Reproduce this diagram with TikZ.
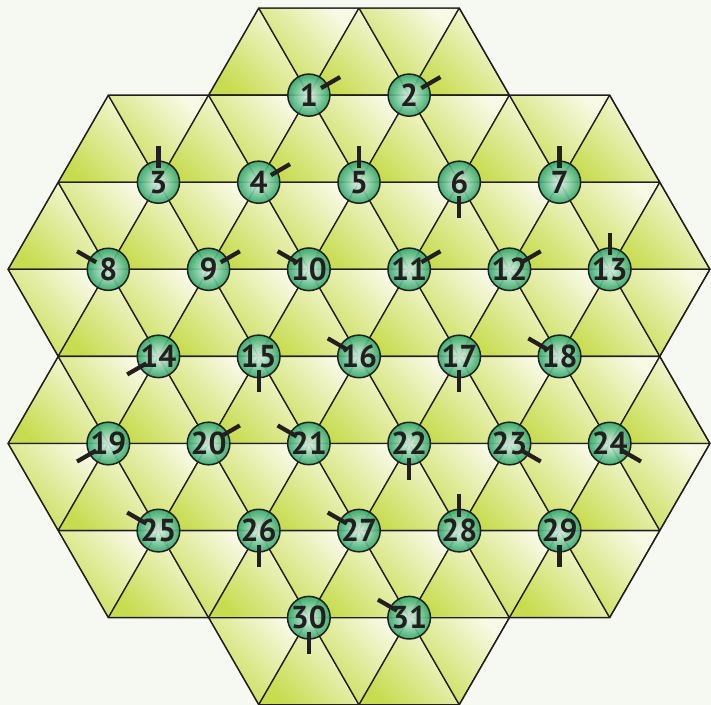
\documentclass[tikz,border=0pt]{standalone}
\usepackage{fontspec}
\setmainfont{PT Sans}
\usetikzlibrary{calc}
\definecolor{ink}{RGB}{35,31,32}
\definecolor{paper}{RGB}{246,249,242}
\definecolor{leafdark}{RGB}{200,220,80}
\definecolor{leaflight}{RGB}{248,250,230}
\definecolor{ballin}{RGB}{226,245,234}
\definecolor{ballout}{RGB}{48,168,108}
\tikzset{
  tri/.style={draw=ink, line width=0.75pt, bottom color=leafdark, top color=leaflight,
              shading angle=-45},
  rim/.style={draw=ink, line width=0.8pt, line join=miter},
  peg/.style={circle, draw=ink, line width=0.85pt, minimum size=0.84cm, inner sep=0pt,
              inner color=ballin, outer color=ballout, fill opacity=0.9, text opacity=1,
              font=\bfseries\fontsize{18}{18}\selectfont, text=ink},
  hand/.style={draw=ink, line width=2.4pt},
}
\newcommand{\hand}[2]{\draw[hand] ($(#1)+(#2:0.28cm)$) -- ($(#1)+(#2:0.72cm)$);}

\begin{document}
\begin{tikzpicture}[x=1cm, y=1.737cm]
  \fill[paper] (-0.16,0.092) rectangle (14.02,-8.0);
  \useasboundingbox (-0.16,0.092) rectangle (14.02,-8.0);

  % board
  \begin{scope}
    \clip (5,0) -- (9,0) -- (10,-1) -- (12,-1) -- (13,-2) -- (14,-3) -- (13,-4) -- (14,-5)
      -- (13,-6) -- (12,-7) -- (10,-7) -- (9,-8) -- (5,-8) -- (4,-7) -- (2,-7) -- (1,-6)
      -- (0,-5) -- (1,-4) -- (0,-3) -- (1,-2) -- (2,-1) -- (4,-1) -- cycle;
    \foreach \r in {0,...,7}{
      \foreach \c in {0,...,14}{
        \ifodd\numexpr\c+\r\relax
          \shadedraw[tri] (\c,-\r) -- (\c+1,-\r-1) -- (\c-1,-\r-1) -- cycle;
        \else
          \shadedraw[tri] (\c-1,-\r) -- (\c+1,-\r) -- (\c,-\r-1) -- cycle;
        \fi
      }
    }
  \end{scope}
  \draw[rim] (5,0) -- (9,0) -- (10,-1) -- (12,-1) -- (13,-2) -- (14,-3) -- (13,-4) -- (14,-5)
    -- (13,-6) -- (12,-7) -- (10,-7) -- (9,-8) -- (5,-8) -- (4,-7) -- (2,-7) -- (1,-6)
    -- (0,-5) -- (1,-4) -- (0,-3) -- (1,-2) -- (2,-1) -- (4,-1) -- cycle;

  % pegs
  \node[peg] (p1)  at (6,-1)  {1};
  \node[peg] (p2)  at (8,-1)  {2};
  \node[peg] (p3)  at (3,-2)  {3};
  \node[peg] (p4)  at (5,-2)  {4};
  \node[peg] (p5)  at (7,-2)  {5};
  \node[peg] (p6)  at (9,-2)  {6};
  \node[peg] (p7)  at (11,-2) {7};
  \node[peg] (p8)  at (2,-3)  {8};
  \node[peg] (p9)  at (4,-3)  {9};
  \node[peg] (p10) at (6,-3)  {10};
  \node[peg] (p11) at (8,-3)  {11};
  \node[peg] (p12) at (10,-3) {12};
  \node[peg] (p13) at (12,-3) {13};
  \node[peg] (p14) at (3,-4)  {14};
  \node[peg] (p15) at (5,-4)  {15};
  \node[peg] (p16) at (7,-4)  {16};
  \node[peg] (p17) at (9,-4)  {17};
  \node[peg] (p18) at (11,-4) {18};
  \node[peg] (p19) at (2,-5)  {19};
  \node[peg] (p20) at (4,-5)  {20};
  \node[peg] (p21) at (6,-5)  {21};
  \node[peg] (p22) at (8,-5)  {22};
  \node[peg] (p23) at (10,-5) {23};
  \node[peg] (p24) at (12,-5) {24};
  \node[peg] (p25) at (3,-6)  {25};
  \node[peg] (p26) at (5,-6)  {26};
  \node[peg] (p27) at (7,-6)  {27};
  \node[peg] (p28) at (9,-6)  {28};
  \node[peg] (p29) at (11,-6) {29};
  \node[peg] (p30) at (6,-7)  {30};
  \node[peg] (p31) at (8,-7)  {31};

  % hands
  \hand{p1}{30}   \hand{p2}{30}
  \hand{p3}{90}   \hand{p4}{30}   \hand{p5}{90}   \hand{p6}{270}  \hand{p7}{90}
  \hand{p8}{150}  \hand{p9}{30}   \hand{p10}{150} \hand{p11}{30}  \hand{p12}{30}  \hand{p13}{90}
  \hand{p14}{210} \hand{p15}{270} \hand{p16}{150} \hand{p17}{270} \hand{p18}{150}
  \hand{p19}{210} \hand{p20}{30}  \hand{p21}{150} \hand{p22}{270} \hand{p23}{330} \hand{p24}{330}
  \hand{p25}{150} \hand{p26}{270} \hand{p27}{150} \hand{p28}{90}  \hand{p29}{270}
  \hand{p30}{270} \hand{p31}{150}
\end{tikzpicture}
\end{document}
